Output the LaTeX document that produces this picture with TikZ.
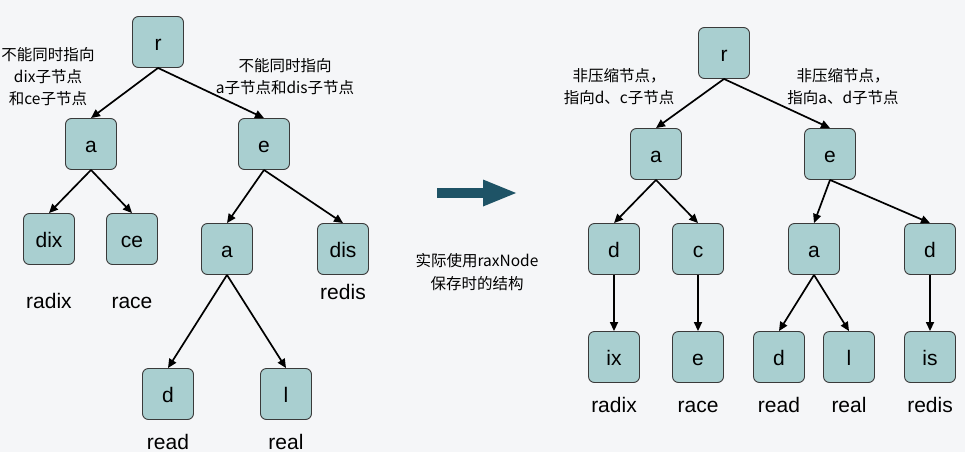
\documentclass[tikz,border=0pt]{standalone}
\usepackage{fontspec}
\setmainfont{Liberation Sans}
\newfontfamily\cjk{Noto Sans CJK SC}
\usepackage{tikz}
\usetikzlibrary{arrows.meta}

\definecolor{nodefill}{HTML}{A9CFD0}
\definecolor{nodeline}{HTML}{3A3A3A}
\definecolor{bgcol}{HTML}{F5F6F8}
\definecolor{bigarrow}{HTML}{1E5366}

\begin{document}
\begin{tikzpicture}[
    x=1pt, y=-1pt,
    trie/.style={rectangle, rounded corners=6pt, draw=nodeline, line width=0.9pt, fill=nodefill, minimum width=51pt, minimum height=51pt, inner sep=0pt, font=\fontsize{21}{25}\selectfont, text height=16pt, text depth=0pt},
    word/.style={anchor=base, inner sep=0pt, font=\fontsize{21}{25}\selectfont},
    note/.style={align=center, inner sep=0pt, font=\cjk\fontsize{15.5}{22}\selectfont},
    edge/.style={-{Triangle[length=9pt, width=8pt]}, line width=1.7pt},
]
% Background
\fill[bgcol] (0,0) rectangle (965,452);
\useasboundingbox (0,0) rectangle (965,452);

% Left tree: nodes
\node (lroot) [trie] at (158,42) {r};
\node (la) [trie] at (91,144) {a};
\node (le) [trie] at (264,144) {e};
\node (ldix) [trie] at (49,239) {dix};
\node (lce) [trie] at (132,239) {ce};
\node (lea) [trie] at (227,249) {a};
\node (ldis) [trie] at (343,249) {dis};
\node (lead) [trie] at (168,394) {d};
\node (leal) [trie] at (286,394) {l};

% Left tree: words
\node (lradix) [word] at (49,308) {radix};
\node (lrace) [word] at (132,308) {race};
\node (lredis) [word] at (343,299) {redis};
\node (lread) [word] at (168,449) {read};
\node (lreal) [word] at (286,449) {real};

% Left tree: notes
\node (lnote1) [note] at (48,77) {不能同时指向\\dix子节点\\和ce子节点};
\node (lnote2) [note] at (285,77) {不能同时指向\\a子节点和dis子节点};

% Middle arrow and text
\coordinate (arrowtail) at (437,193);
\coordinate (arrowtip) at (516,193);
\draw [bigarrow, line width=10pt, -{Triangle[length=33pt, width=27pt, line width=0pt]}] (arrowtail) -- (arrowtip);
\node (mnote) [note, font=\cjk\fontsize{15.5}{23}\selectfont] at (477,272) {实际使用raxNode\\保存时的结构};

% Right tree: nodes
\node (rroot) [trie] at (724,53) {r};
\node (ra) [trie] at (656,154) {a};
\node (re) [trie] at (830,154) {e};
\node (rad) [trie] at (614,249) {d};
\node (rac) [trie] at (698,249) {c};
\node (rea) [trie] at (814,249) {a};
\node (red) [trie] at (930,249) {d};
\node (radix) [trie] at (614,357) {ix};
\node (race) [trie] at (698,357) {e};
\node (read) [trie] at (779,357) {d};
\node (real) [trie] at (849,357) {l};
\node (redis) [trie] at (930,357) {is};

% Right tree: words
\node (rradix) [word] at (614,412) {radix};
\node (rrace) [word] at (698,412) {race};
\node (rread) [word] at (779,412) {read};
\node (rreal) [word] at (849,412) {real};
\node (rredis) [word] at (930,412) {redis};

% Right tree: notes
\node (rnote1) [note] at (619,87) {非压缩节点，\\指向d、c子节点};
\node (rnote2) [note] at (843,87) {非压缩节点，\\指向a、d子节点};

% Arrows
\draw [edge] (lroot.south) -- (la.north);
\draw [edge] (lroot.south) -- (le.north);
\draw [edge] (la.south) -- (ldix.north);
\draw [edge] (la.south) -- (lce.north);
\draw [edge] (le.south) -- (lea.north);
\draw [edge] (le.south) -- (ldis.north);
\draw [edge] (lea.south) -- (lead.north);
\draw [edge] (lea.south) -- (leal.north);

\draw [edge] (rroot.south) -- (ra.north);
\draw [edge] (rroot.south) -- (re.north);
\draw [edge] (ra.south) -- (rad.north);
\draw [edge] (ra.south) -- (rac.north);
\draw [edge] (re.south) -- (rea.north);
\draw [edge] (re.south) -- (red.north);
\draw [edge] (rad.south) -- (radix.north);
\draw [edge] (rac.south) -- (race.north);
\draw [edge] (rea.south) -- (read.north);
\draw [edge] (rea.south) -- (real.north);
\draw [edge] (red.south) -- (redis.north);

\end{tikzpicture}
\end{document}
